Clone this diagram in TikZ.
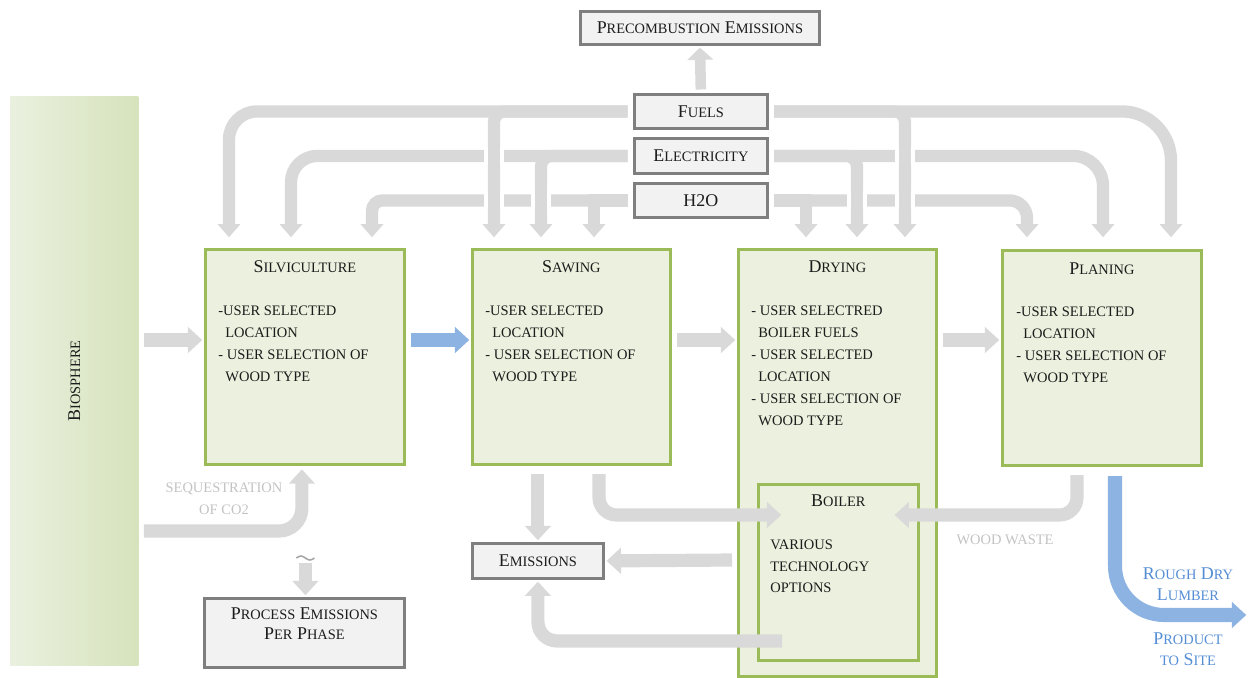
\documentclass[tikz,border=0pt]{standalone}
\usepackage{fontspec}
\setmainfont{Liberation Serif}
\usetikzlibrary{arrows.meta,calc}

\definecolor{boxfill}{HTML}{EBF1DE}
\definecolor{boxline}{HTML}{9BBB59}
\definecolor{greyfill}{HTML}{F2F2F2}
\definecolor{greyline}{HTML}{7F7F7F}
\definecolor{flowgrey}{HTML}{D9D9D9}
\definecolor{flowblue}{HTML}{8DB3E2}
\definecolor{notegrey}{HTML}{C3C3C3}
\definecolor{noteblue}{HTML}{558ED5}
\definecolor{ink}{HTML}{1C1C1C}
\definecolor{bioleft}{HTML}{EAF0DF}
\definecolor{bioright}{HTML}{D6E3BC}

\newcommand\smc[1]{{\fontsize{8.2}{10}\selectfont #1}}
\newcommand\titlefont{\fontsize{10.2}{12}\selectfont}
\newcommand\bodyfont{\fontsize{8.25}{12.5}\selectfont}

\tikzset{
  wh/.style 2 args={minimum width=#1*0.02cm, minimum height=#2*0.02cm},
  phase/.style={draw=boxline, fill=boxfill, line width=1.6pt, anchor=north west, inner sep=0pt},
  greybox/.style={draw=greyline, fill=greyfill, line width=1.6pt, anchor=north west,
    inner sep=0pt, font=\titlefont, text=ink},
  title/.style={font=\titlefont, text=ink, inner sep=0pt, anchor=base},
  body/.style={font=\bodyfont, text=ink, inner sep=0pt, align=left, anchor=north west},
  note/.style={font=\bodyfont, text=notegrey, inner sep=0pt, align=center},
  bluenote/.style={font=\titlefont, text=noteblue, inner sep=0pt, align=center},
  flow/.style={draw=flowgrey, line width=7.5pt, shorten <=3pt, shorten >=1pt,
    -{Triangle[length=8.2pt, width=14.5pt]}},
  flowtop/.style={flow, line width=7pt, -{Triangle[length=7.4pt, width=12.5pt]}},
  product/.style={flow, draw=flowblue, line width=8pt}
}

\begin{document}
\begin{tikzpicture}[x=0.02cm, y=-0.02cm]
\useasboundingbox (0,0) rectangle (1248,677);

% biosphere and phases
\node[draw=none, inner sep=0pt, anchor=north west, left color=bioleft, right color=bioright,
  wh={128}{569}] (bio) at (10,96) {};
\node[rotate=90, font=\titlefont, text=ink, inner sep=0pt] (bioT) at (bio.center) {B\smc{IOSPHERE}};

\node[phase, wh={199}{215}] (silv) at (204,248) {};
\node[phase, wh={198}{215}] (saw)  at (471,248) {};
\node[phase, wh={198}{427}] (dry)  at (737,248) {};
\node[phase, wh={199}{215}] (plan) at (1001,249) {};
\node[phase, wh={160}{176}] (boiler) at (757,483) {};

\node[title] (silvT) at ($(silv.north)+(0,24)$) {S\smc{ILVICULTURE}};
\node[title] (sawT)  at ($(saw.north)+(0,24)$)  {S\smc{AWING}};
\node[title] (dryT)  at ($(dry.north)+(0,24)$)  {D\smc{RYING}};
\node[title] (planT) at ($(plan.north)+(0,25)$) {P\smc{LANING}};
\node[title] (boilT) at ($(boiler.north)+(0,23)$) {B\smc{OILER}};

\node[body] (silvB) at ($(silv.north west)+(14,58)$)
  {-USER SELECTED\\\hspace*{4pt}LOCATION\\- USER SELECTION OF\\\hspace*{4pt}WOOD TYPE};
\node[body] (sawB) at ($(saw.north west)+(14,58)$)
  {-USER SELECTED\\\hspace*{4pt}LOCATION\\- USER SELECTION OF\\\hspace*{4pt}WOOD TYPE};
\node[body] (dryB) at ($(dry.north west)+(14,58)$)
  {- USER SELECTRED\\\hspace*{4pt}BOILER FUELS\\- USER SELECTED\\\hspace*{4pt}LOCATION\\
   - USER SELECTION OF\\\hspace*{4pt}WOOD TYPE};
\node[body] (planB) at ($(plan.north west)+(15,58)$)
  {-USER SELECTED\\\hspace*{4pt}LOCATION\\- USER SELECTION OF\\\hspace*{4pt}WOOD TYPE};
\node[body, font=\fontsize{8.25}{12.2}\selectfont] (boilB) at ($(boiler.north west)+(13,57)$)
  {VARIOUS\\TECHNOLOGY\\OPTIONS};

% grey boxes
\node[greybox, wh={239}{33}] (precomb) at (579,10) {P\smc{RECOMBUSTION} E\smc{MISSIONS}};
\node[greybox, wh={133}{34}] (fuels) at (633,93)  {F\smc{UELS}};
\node[greybox, wh={133}{35}] (elec)  at (633,137) {E\smc{LECTRICITY}};
\node[greybox, wh={133}{34}] (h2o)   at (633,182) {H2O};
\node[greybox, wh={131}{35}] (emis)  at (471,542) {E\smc{MISSIONS}};
\node[greybox, wh={200}{69}] (proc)  at (203,597) {};
\node[title, anchor=center, align=center, font=\fontsize{10.2}{11.4}\selectfont] (procT)
  at ($(proc.north)+(0,27)$) {P\smc{ROCESS} E\smc{MISSIONS}\\P\smc{ER} P\smc{HASE}};

%%%%%%%%%%%%%%%%%%%%%%%%%%%%%%%%%%%%%%%%

\coordinate (silvF) at ($(silv.north west)+(25,-9)$);
\coordinate (silvE) at ($(silv.north west)+(87,-9)$);
\coordinate (silvH) at ($(silv.north west)+(168,-9)$);
\coordinate (sawF)  at ($(saw.north west)+(23,-9)$);
\coordinate (sawE)  at ($(saw.north west)+(70,-9)$);
\coordinate (sawH)  at ($(saw.north west)+(123,-9)$);
\coordinate (dryH)  at ($(dry.north west)+(69,-9)$);
\coordinate (dryE)  at ($(dry.north west)+(120,-9)$);
\coordinate (dryF)  at ($(dry.north west)+(168,-9)$);
\coordinate (planH) at ($(plan.north west)+(26,-10)$);
\coordinate (planE) at ($(plan.north west)+(102,-10)$);
\coordinate (planF) at ($(plan.north west)+(170,-10)$);

\draw[flowtop] (h2o.west) -| (sawH);
\draw[flowtop, rounded corners=6pt] (h2o.west) -| (silvH);
\draw[flowtop] (h2o.east) -| (dryH);
\draw[flowtop, rounded corners=10pt] (h2o.east) -| (planH);

\draw[flowtop, rounded corners=15pt] (elec.west) -| (silvE);
\draw[flowtop, rounded corners=6pt] (elec.west) -| (sawE);
\draw[flowtop, rounded corners=6pt] (elec.east) -| (dryE);
\draw[flowtop, rounded corners=17pt] (elec.east) -| (planE);

\draw[flowtop, rounded corners=16pt] (fuels.west) -| (silvF);
\draw[flowtop, rounded corners=6pt] (fuels.west) -| (sawF);
\draw[flowtop, rounded corners=6pt] (fuels.east) -| (dryF);
\draw[flowtop, rounded corners=28pt] (fuels.east) -| (planF);

% crossings
\foreach \v/\h in {sawF/elec, sawF/h2o, sawE/h2o, dryF/elec, dryF/h2o, dryE/h2o} {
  \draw[white, line width=11pt] ($(\v |- \h.west)+(0,-9)$) -- ($(\v |- \h.west)+(0,9)$);
  \draw[flowgrey, line width=7pt] ($(\v |- \h.west)+(0,-12)$) -- ($(\v |- \h.west)+(0,12)$);
}

\draw[flowtop, line width=6pt, shorten <=2pt, -{Triangle[length=7pt, width=14.5pt]}]
  (fuels.north) -- (precomb.south);

% main row
\coordinate (row) at (0,340);
\draw[flow] (bio.east |- row) -- (silv.west |- row);
\draw[flow, draw=flowblue] (silv.east |- row) -- (saw.west |- row);
\draw[flow] (saw.east |- row) -- (dry.west |- row);
\draw[flow] (dry.east |- row) -- (plan.west |- row);

% bottom
\coordinate (seqrow) at (0,531);
\draw[flow, rounded corners=13pt, shorten >=2pt] (bio.east |- seqrow) -| ($(silv.south)+(-3,0)$);
\node[note] (seqT) at (224,499) {SEQUESTRATION\\OF CO2};

\coordinate (tilde) at ($(proc.north)+(1,-40)$);
\draw[gray!70, line width=0.9pt] ($(tilde)+(-9,1)$) sin ++(4.5,-2) cos ++(4.5,2)
  sin ++(4.5,2) cos ++(4.5,-2);
\draw[flow, line width=7pt, shorten <=0pt] ($(proc.north)+(1,-34)$) -- ($(proc.north)+(1,0)$);

\coordinate (boilIn)  at ($(boiler.north west)+(26,32)$);
\coordinate (boilInR) at ($(boiler.north east)+(-27,32)$);
\draw[flow] ($(saw.south -| emis.north)+(0,3)$) -- (emis.north);
\draw[flow, rounded corners=10pt] ($(saw.south west)+(128,3)$) |- (boilIn);
\draw[flow, rounded corners=10pt] ($(plan.south west)+(76,3)$) |- (boilInR);
\draw[flow, shorten <=0pt] ($(boiler.north west)+(-25,77)$) -- (emis.east);
\draw[flow, rounded corners=11pt, shorten <=0pt] ($(boiler.north west)+(25,158)$) -| (emis.south);
\node[note] (wasteT) at (1005,540) {WOOD WASTE};

\coordinate (site) at (1248,615);
\draw[product, rounded corners=28pt] ($(plan.south west)+(114,4)$) |- (site);
\node[bluenote] (roughT) at (1188,584) {R\smc{OUGH} D\smc{RY}\\L\smc{UMBER}};
\node[bluenote] (prodT)  at (1188,649) {P\smc{RODUCT}\\\smc{TO} S\smc{ITE}};
\end{tikzpicture}
\end{document}
